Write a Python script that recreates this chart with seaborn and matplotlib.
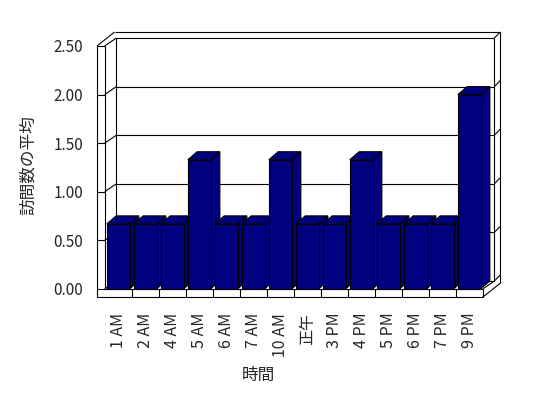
import matplotlib
matplotlib.use("Agg")
import matplotlib.pyplot as plt
import pandas as pd
import seaborn as sns
from matplotlib.patches import Polygon
from matplotlib.lines import Line2D

# ---- data ----
hours = ["1 AM", "2 AM", "4 AM", "5 AM", "6 AM", "7 AM", "10 AM", "正午",
         "3 PM", "4 PM", "5 PM", "6 PM", "7 PM", "9 PM"]
visits = [0.67, 0.67, 0.67, 1.33, 0.67, 0.67, 1.33, 0.67,
          0.67, 1.33, 0.67, 0.67, 0.67, 2.00]
y_ticks = [0.0, 0.5, 1.0, 1.5, 2.0, 2.5]
y_tick_labels = ["0.00", "0.50", "1.00", "1.50", "2.00", "2.50"]
x_title = "時間"
y_title = "訪問数の平均"

sns.set_theme(style="white")
plt.rcParams['font.family'] = ['Noto Sans CJK JP', 'DejaVu Sans']

W, H = 548, 398
fig = plt.figure(figsize=(W / 100, H / 100), dpi=100)
fig.patch.set_facecolor("white")
ax = fig.add_axes([90 / W, 93 / H, 415 / W, 280 / H])
ax.set_facecolor("white")

df = pd.DataFrame({"時間": hours, "訪問数の平均": visits})
sns.barplot(data=df, x="時間", y="訪問数の平均", color="#000080", saturation=1,
            width=0.84, edgecolor="black", linewidth=0.8, ax=ax)

n = len(hours)
ymax = y_ticks[-1]
x_left, x_right = -0.5, n - 0.5

# pseudo-3D geometry (in data units)
WALL_T = 0.285
FLOOR_T = 0.085
DIX, DIY = 0.43, 0.082
DOX, DOY = 0.65, 0.144
BX, BY = 0.345, 0.082

lk = dict(color="black", lw=0.8, zorder=1, solid_capstyle="butt")


def seg(p, q, **kw):
    d = dict(lk)
    d.update(kw)
    ax.add_line(Line2D([p[0], q[0]], [p[1], q[1]], **d))


# gridlines on the walls
for v in y_ticks:
    seg((x_left - WALL_T, v), (x_left, v))
    seg((x_left, v), (x_left + DIX, v + DIY))
    seg((x_left + DIX, v + DIY), (x_right + DIX, v + DIY))
    seg((x_right + DIX, v + DIY), (x_right + DOX, v + DOY))

# left wall
seg((x_left - WALL_T, -FLOOR_T), (x_left - WALL_T, ymax))
seg((x_left, 0), (x_left, ymax))
seg((x_left + DIX, DIY), (x_left + DIX, ymax + DIY))
seg((x_left - WALL_T, ymax), (x_left - WALL_T + DOX, ymax + DOY))
seg((x_left - WALL_T + DOX, ymax + DOY), (x_right + DOX, ymax + DOY))
# back wall right edges
seg((x_right + DIX, DIY), (x_right + DIX, ymax + DIY))
seg((x_right + DOX, -FLOOR_T + DOY), (x_right + DOX, ymax + DOY))
# floor slab
seg((x_left - WALL_T, -FLOOR_T), (x_right, -FLOOR_T), zorder=50)
seg((x_left, 0), (x_right, 0), zorder=50)
seg((x_right, -FLOOR_T), (x_right, 0), zorder=50)
seg((x_right, 0), (x_right + DIX, DIY))
seg((x_right, -FLOOR_T), (x_right + DOX, -FLOOR_T + DOY))
for i in range(n - 1):
    seg((i + 0.5, -FLOOR_T), (i + 0.5, 0), zorder=50)

# bar side and top faces
for i, p in enumerate(ax.patches):
    x0, w, h = p.get_x(), p.get_width(), p.get_height()
    side = Polygon([(x0 + w, 0), (x0 + w + BX, BY), (x0 + w + BX, h + BY), (x0 + w, h)],
                   closed=True, facecolor="#000080", edgecolor="black", lw=0.8,
                   zorder=3 + 2 * i)
    top = Polygon([(x0, h), (x0 + BX, h + BY), (x0 + w + BX, h + BY), (x0 + w, h)],
                  closed=True, facecolor="#000080", edgecolor="black", lw=0.8,
                  zorder=3 + 2 * i)
    ax.add_patch(side)
    ax.add_patch(top)
    p.set_zorder(4 + 2 * i)

ax.set_xlim(-1.044, 14.326)
ax.set_ylim(-0.165, 2.716)
for s in ax.spines.values():
    s.set_visible(False)
ax.grid(False)

ax.set_yticks(y_ticks)
ax.set_yticklabels(y_tick_labels, fontsize=11)
ax.set_xticks(range(n))
ax.set_xticklabels(hours, rotation=90, fontsize=11.5)
ax.tick_params(axis="y", length=0, pad=5)
ax.tick_params(axis="x", length=0, pad=5.5)

ax.set_xlabel(x_title, fontsize=12)
ax.set_ylabel(y_title, fontsize=12)
ax.xaxis.set_label_coords((258 - 90) / 415, -(367 - 305) / 280)
ax.yaxis.set_label_coords((37 - 90) / 415, 0.5)

fig.savefig("out.png", dpi=100, facecolor="white")
